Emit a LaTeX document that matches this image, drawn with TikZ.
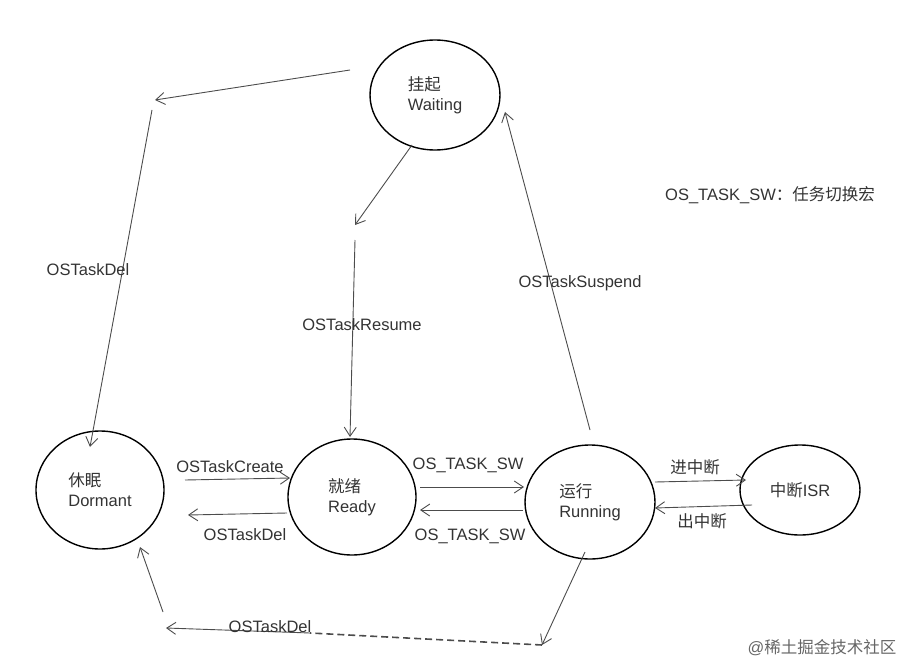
\documentclass[tikz,border=0pt]{standalone}
\usepackage{fontspec}
\setmainfont{Liberation Sans}
\newfontfamily\cjk{Noto Sans CJK SC}
\usetikzlibrary{arrows.meta,shapes.geometric}
\begin{document}
\begin{tikzpicture}[x=1pt,y=-1pt,
  st/.style={draw=black,line width=1.4pt,ellipse,inner sep=0pt},
  ar/.style={draw=black!70,line width=0.9pt,-{Straight Barb[length=9pt,width=12pt,line width=0.9pt]}},
  ln/.style={draw=black!70,line width=0.9pt},
  lb/.style={text=black!80,inner sep=1pt},
  every node/.style={font=\fontsize{16.5}{20}\selectfont}]
\useasboundingbox (0,0) rectangle (907,666);
\node[st,minimum width=128pt,minimum height=118pt,align=left,text=black!80] (dor) at (100,490) {{\cjk 休眠}\\Dormant};
\node[st,minimum width=128pt,minimum height=116pt,align=left,text=black!80] (rdy) at (352,497) {{\cjk 就绪}\\Ready};
\node[st,minimum width=130pt,minimum height=114pt,align=left,text=black!80] (run) at (590,502) {{\cjk 运行}\\Running};
\node[st,minimum width=120pt,minimum height=90pt,text=black!80] (isr) at (800,490) {{\cjk 中断}ISR};
\node[st,minimum width=130pt,minimum height=110pt,align=left,text=black!80] (wait) at (435,95) {{\cjk 挂起}\\Waiting};
\coordinate (a1) at (350,70); \coordinate (a2) at (155,100);
\coordinate (a3) at (152,110); \coordinate (a4) at (90,447);
\draw[ar] (a1) -- (a2);
\draw[ar] (a3) -- (a4);
\coordinate (b1) at (412,145); \coordinate (b2) at (355,225);
\coordinate (b3) at (355,240); \coordinate (b4) at (350,437);
\draw[ar] (b1) -- (b2);
\draw[ar] (b3) -- (b4);
\coordinate (c1) at (590,430); \coordinate (c2) at (505,112);
\draw[ar] (c1) -- (c2);
\coordinate (d1) at (185,480); \coordinate (d2) at (290,478);
\coordinate (d3) at (287,513); \coordinate (d4) at (188,515);
\draw[ar] (d1) -- (d2); \draw[ar] (d3) -- (d4);
\coordinate (e1) at (420,487); \coordinate (e2) at (524,487);
\coordinate (e3) at (523,510); \coordinate (e4) at (420,510);
\draw[ar] (e1) -- (e2); \draw[ar] (e3) -- (e4);
\coordinate (f1) at (655,482); \coordinate (f2) at (746,480);
\coordinate (f3) at (752,505); \coordinate (f4) at (655,508);
\draw[ar] (f1) -- (f2); \draw[ar] (f3) -- (f4);
\coordinate (g1) at (585,552); \coordinate (g2) at (542,645);
\coordinate (g3) at (310,633); \coordinate (g4) at (166,628);
\coordinate (g5) at (163,612); \coordinate (g6) at (140,547);
\draw[ar] (g1) -- (g2);
\draw[ln,line width=1.6pt,dash pattern=on 7pt off 4pt] (g2) -- (g3);
\draw[ar] (g3) -- (g4);
\draw[ar] (g5) -- (g6);
\node[lb] (l1) at (88,270) {OSTaskDel};
\node[lb] (l2) at (362,325) {OSTaskResume};
\node[lb] (l3) at (580,283) {OSTaskSuspend};
\node[lb] (l4) at (770,195) {OS\_TASK\_SW{\cjk ：任务切换宏}};
\node[lb] (l5) at (230,467) {OSTaskCreate};
\node[lb] (l6) at (245,535) {OSTaskDel};
\node[lb] (l7) at (468,465) {OS\_TASK\_SW};
\node[lb] (l8) at (470,536) {OS\_TASK\_SW};
\node[lb] (l9) at (695,467) {\cjk 进中断};
\node[lb] (l10) at (702,521) {\cjk 出中断};
\node[lb] (l11) at (270,627) {OSTaskDel};
\node[lb,text=black!60] (wm) at (822,648) {@{\cjk 稀土掘金技术社区}};
\end{tikzpicture}
\end{document}
